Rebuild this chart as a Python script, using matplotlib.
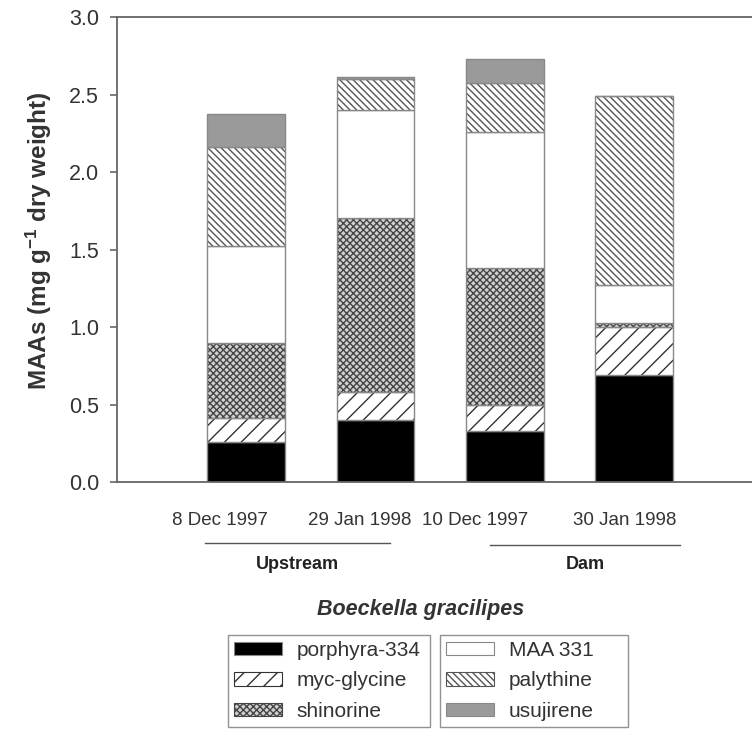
import matplotlib
matplotlib.use("Agg")
import matplotlib.pyplot as plt
import numpy as np
from matplotlib.patches import Patch
from matplotlib.lines import Line2D

plt.rcParams['font.family'] = ['Liberation Sans', 'DejaVu Sans']
plt.rcParams['mathtext.default'] = 'regular'
plt.rcParams['hatch.linewidth'] = 1.0

dates = ['8 Dec 1997', '29 Jan 1998', '10 Dec 1997', '30 Jan 1998']
sites = ['Upstream', 'Dam']
species = 'Boeckella gracilipes'

porphyra = [0.26, 0.40, 0.333, 0.69]
myc_glycine = [0.155, 0.183, 0.166, 0.31]
shinorine = [0.484, 1.122, 0.882, 0.03]
maa331 = [0.623, 0.699, 0.881, 0.24]
palythine = [0.641, 0.20, 0.316, 1.22]
usujirene = [0.21, 0.01, 0.15, 0.005]

names = ['porphyra-334', 'myc-glycine', 'shinorine', 'MAA 331', 'palythine', 'usujirene']
series = [porphyra, myc_glycine, shinorine, maa331, palythine, usujirene]
faces = ['black', 'white', '#d0d0d0', 'white', 'white', '#9a9a9a']
hatches = [None, '//', 'xxxxx', None, '\\\\\\\\\\', None]
hcolors = ['black', '#333333', '#444444', 'white', '#555555', '#9a9a9a']

fig = plt.figure(figsize=(7.52, 7.29), dpi=100)
ax = fig.add_axes([117/752, 1-482.3/729, 1-117/752, 465/729])

x = np.arange(len(dates))
w = 0.6
bottom = np.zeros(len(dates))
for vals, fc, h, hc in zip(series, faces, hatches, hcolors):
    vals = np.array(vals)
    ax.bar(x, vals, w, bottom=bottom, color=fc, hatch=h, edgecolor=hc, linewidth=0)
    ax.bar(x, vals, w, bottom=bottom, fill=False, edgecolor='#888888', linewidth=1.0)
    bottom += vals

ax.set_xlim(-1, 3.913)
ax.set_ylim(0, 3.0)
ax.set_yticks(np.arange(0, 3.01, 0.5))
ax.set_yticklabels([f'{v:.1f}' for v in np.arange(0, 3.01, 0.5)], fontsize=15.5, color='#333333')
ax.tick_params(axis='y', direction='out', length=5, width=1.2, color='#666666', pad=8)
ax.set_xticks([])
for s in ['left', 'top', 'bottom']:
    ax.spines[s].set_color('#666666')
    ax.spines[s].set_linewidth(1.3)
ax.spines['right'].set_visible(False)

ax.set_ylabel('MAAs (mg g$^{-1}$ dry weight)', fontsize=17.5, fontweight='bold', color='#333333')
ax.yaxis.set_label_coords(-0.099, 0.52)

tr = ax.get_xaxis_transform()
label_offsets = [-0.2, -0.12, -0.23, -0.07]
for xi, d, off in zip(x, dates, label_offsets):
    ax.text(xi + off, -0.083, d, transform=tr, ha='center', va='center', fontsize=13.5, color='#333333', clip_on=False)

line_ext = [(-0.317, 1.114), (1.887, 3.357)]
line_y = [-0.130, -0.135]
for s, (l0, l1), ly in zip(sites, line_ext, line_y):
    ax.add_line(Line2D([l0, l1], [ly, ly], transform=tr, color='#555555', lw=1.0, clip_on=False))
    ax.text((l0 + l1) / 2, -0.177, s, transform=tr, ha='center', va='center', fontsize=13,
            fontweight='bold', color='#222222', clip_on=False)

ax.text(1.35, -0.274, species, transform=tr, ha='center', va='center', fontsize=15.5,
        fontweight='bold', style='italic', color='#333333', clip_on=False)

handles = [Patch(facecolor=fc, hatch=h, edgecolor=('#888888' if h is None else hc), linewidth=0.8)
           for fc, h, hc in zip(faces, hatches, hcolors)]
boxes = [(228, 430), (440, 628)]
for k, (px0, px1) in enumerate(boxes):
    leg = fig.legend(handles[3*k:3*k+3], names[3*k:3*k+3], loc='lower left',
                     bbox_to_anchor=(px0/752, 2/729, (px1-px0)/752, 0.125), mode='expand',
                     fontsize=15, frameon=True, fancybox=False,
                     edgecolor='#777777', handlelength=2.3, handleheight=0.6,
                     borderpad=0.3, labelspacing=0.55, handletextpad=0.7, borderaxespad=0)
    leg.get_frame().set_linewidth(1.0)
    for t in leg.get_texts():
        t.set_color('#333333')

fig.savefig('out.png', dpi=100)
